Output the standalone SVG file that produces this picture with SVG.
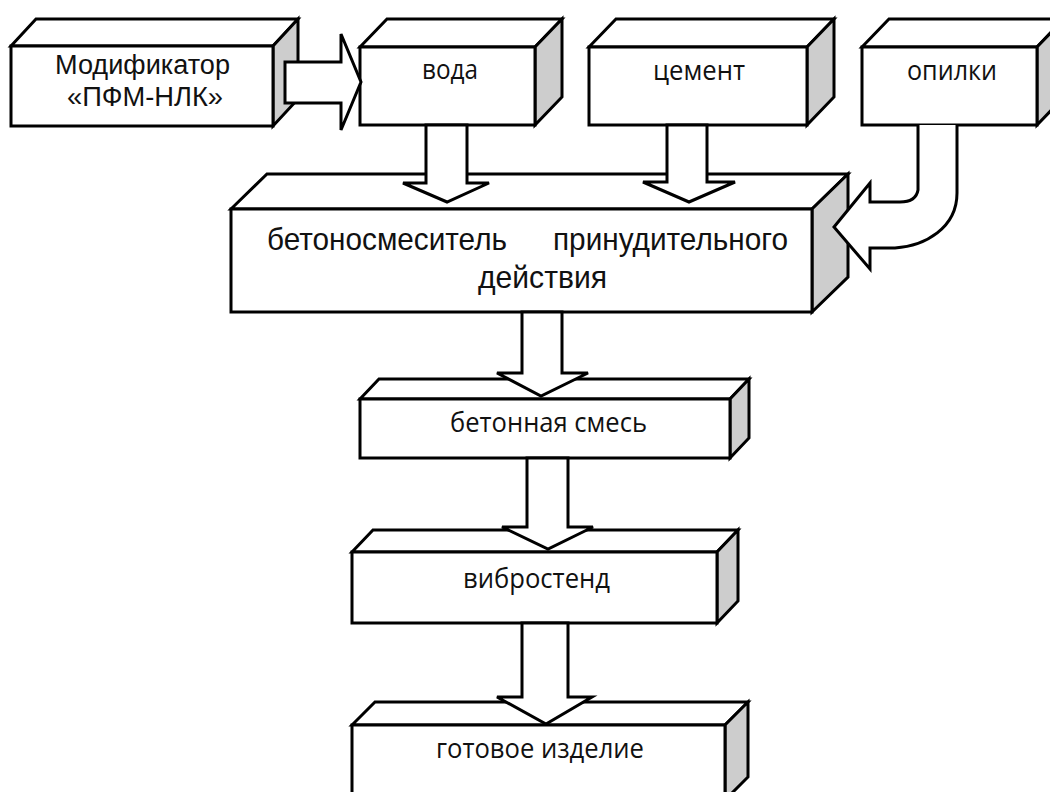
<svg xmlns="http://www.w3.org/2000/svg" width="1050" height="792" viewBox="0 0 1050 792">
<style>
.f{fill:#fff;stroke:#000;stroke-width:3;stroke-linejoin:miter}
.s{fill:#cdcdcd;stroke:#000;stroke-width:3;stroke-linejoin:miter}
.a{fill:#fff;stroke:#000;stroke-width:3;stroke-linejoin:miter}
.t{font-family:"Open Sans","Noto Sans","DejaVu Sans",sans-serif;font-size:27px;fill:#111;text-anchor:start}
.n{font-family:"Liberation Sans",Arial,sans-serif;font-size:27px;fill:#111;text-anchor:start}
.m{font-family:"Liberation Sans",Arial,sans-serif;font-size:32px;fill:#111;text-anchor:start}
</style>
<rect width="1050" height="792" fill="#fff"/>
<g id="node-modifier">
<polygon class="f" points="11,46 36,19 298,19 273,46"/>
<polygon class="s" points="273,46 298,19 298,99 273,126"/>
<rect class="f" x="11" y="46" width="262" height="80"/>
<text class="n" x="55" y="74" textLength="175" lengthAdjust="spacingAndGlyphs">Модификатор</text>
<text class="n" x="67" y="106" textLength="156" lengthAdjust="spacingAndGlyphs">«ПФМ-НЛК»</text>
</g>
<g id="node-voda">
<polygon class="f" points="360,47 387,19 562,19 535,47"/>
<polygon class="s" points="535,47 562,19 562,97 535,125"/>
<rect class="f" x="360" y="47" width="175" height="78"/>
<text class="t" x="422" y="79" textLength="56" lengthAdjust="spacingAndGlyphs">вода</text>
</g>
<g id="node-cement">
<polygon class="f" points="589,47 616,19 834,19 807,47"/>
<polygon class="s" points="807,47 834,19 834,97 807,125"/>
<rect class="f" x="589" y="47" width="218" height="78"/>
<text class="t" x="653" y="80" textLength="92" lengthAdjust="spacingAndGlyphs">цемент</text>
</g>
<g id="node-opilki">
<polygon class="f" points="862,47 889,19 1064,19 1037,47"/>
<polygon class="s" points="1037,47 1064,19 1064,97 1037,125"/>
<rect class="f" x="862" y="47" width="175" height="78"/>
<text class="t" x="907" y="80" textLength="90" lengthAdjust="spacingAndGlyphs">опилки</text>
</g>
<g id="node-mixer">
<polygon class="f" points="231,209 267,174 848,174 812,209"/>
<polygon class="s" points="812,209 848,174 848,277 812,312"/>
<rect class="f" x="231" y="209" width="581" height="103"/>
<text class="m" x="267" y="250" textLength="240" lengthAdjust="spacingAndGlyphs">бетоносмеситель</text>
<text class="m" x="553" y="250" textLength="235" lengthAdjust="spacingAndGlyphs">принудительного</text>
<text class="m" x="478" y="288" textLength="129" lengthAdjust="spacingAndGlyphs">действия</text>
</g>
<g id="node-mix">
<polygon class="f" points="360,399 379,379 749,379 730,399"/>
<polygon class="s" points="730,399 749,379 749,438 730,458"/>
<rect class="f" x="360" y="399" width="370" height="59"/>
<text class="t" x="450" y="432" font-size="26" textLength="197" lengthAdjust="spacingAndGlyphs">бетонная смесь</text>
</g>
<g id="node-vibro">
<polygon class="f" points="352,552 373,530 738,530 717,552"/>
<polygon class="s" points="717,552 738,530 738,601 717,623"/>
<rect class="f" x="352" y="552" width="365" height="71"/>
<text class="t" x="463" y="588" font-size="26" textLength="147" lengthAdjust="spacingAndGlyphs">вибростенд</text>
</g>
<g id="node-product">
<polygon class="f" points="352,725 375,702 748,702 725,725"/>
<polygon class="s" points="725,725 748,702 748,777 725,800"/>
<rect class="f" x="352" y="725" width="373" height="75"/>
<text class="t" x="436" y="758" font-size="26" textLength="208" lengthAdjust="spacingAndGlyphs">готовое изделие</text>
</g>
<g id="connectors">
<polygon class="a" points="285,62 341,62 341,34 361,82 341,130 341,103 285,103"/>
<polygon class="a" points="426,125 467,125 467,183 489,183 447,202 403,183 426,183"/>
<polygon class="a" points="667,125 707,125 707,182 735,182 689,202 643,182 667,182"/>
<path class="a" d="M918,125 L918,190 Q916,202 900,202 L870,202 L870,183 L834,227 L870,269 L870,248 L895,248 C925,246 957,228 957,193 L957,125"/>
<polygon class="a" points="522,312 562,312 562,373 588,373 541,396 497,373 522,373"/>
<polygon class="a" points="527,458 568,458 568,527 593,527 548,549 502,527 527,527"/>
<polygon class="a" points="522,623 568,623 568,697 592,697 546,724 497,697 522,697"/>
</g>
</svg>
